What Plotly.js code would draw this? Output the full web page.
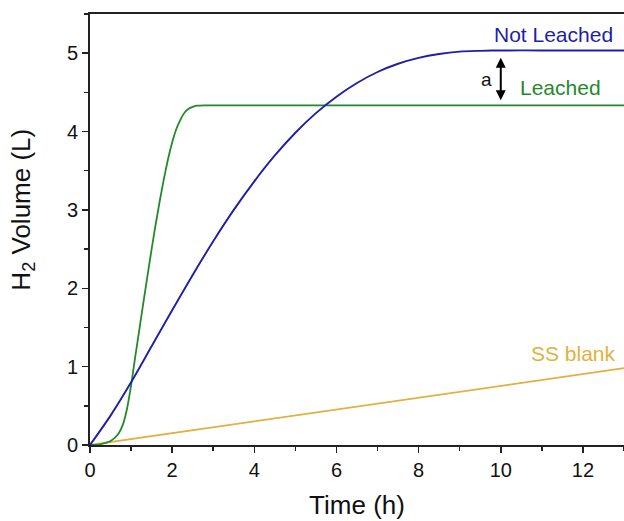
<!DOCTYPE html>
<html>
<head>
<meta charset="utf-8">
<script src="https://cdn.plot.ly/plotly-3.0.1.min.js"></script>
<style>html,body{margin:0;padding:0;background:#fff;}#chart{width:624px;height:521px;}</style>
</head>
<body>
<div id="chart"></div>
<script>
// Not Leached (blue)
const notLeachedTime = [0, 0.5, 1, 1.5, 2, 2.5, 3, 3.5, 4, 4.5, 5, 5.5, 6, 6.5, 7, 7.5, 8, 8.5, 9, 9.5, 10, 11, 12, 13];
const notLeachedVol  = [0, 0.375, 0.80, 1.26, 1.72, 2.17, 2.60, 3.00, 3.365, 3.695, 3.985, 4.235, 4.445, 4.62, 4.76, 4.865, 4.94, 4.99, 5.02, 5.03, 5.035, 5.035, 5.035, 5.035];
// Leached (green)
const leachedTime = [0, 0.2, 0.4, 0.5, 0.6, 0.7, 0.8, 0.9, 1.0, 1.1, 1.2, 1.3, 1.4, 1.5, 1.6, 1.7, 1.8, 1.9, 2.0, 2.1, 2.2, 2.3, 2.4, 2.5, 2.6, 2.8, 3.0, 5, 7, 9, 11, 13];
const leachedVol  = [0, 0.005, 0.03, 0.05, 0.09, 0.15, 0.26, 0.46, 0.76, 1.12, 1.47, 1.82, 2.16, 2.50, 2.82, 3.12, 3.40, 3.65, 3.86, 4.03, 4.15, 4.24, 4.29, 4.315, 4.33, 4.335, 4.335, 4.335, 4.335, 4.335, 4.335, 4.335];
// SS blank (gold)
const blankTime = [0, 2, 4, 6, 8, 10, 12, 13];
const blankVol  = [0, 0.15, 0.30, 0.45, 0.60, 0.75, 0.90, 0.98];

const seriesNames = ['Not Leached', 'Leached', 'SS blank'];
const gapLabel = 'a';
const xTitle = 'Time (h)';
const yTitle = 'H<sub>2</sub> Volume (L)';

const blue = '#1f1fa6', green = '#23892b', gold = '#e0b13e';
const font = 'Liberation Sans, Arial, sans-serif';

const traces = [
  {x: blankTime, y: blankVol, mode: 'lines', line: {color: gold, width: 1.8}, name: seriesNames[2]},
  {x: leachedTime, y: leachedVol, mode: 'lines', line: {color: green, width: 1.8, shape: 'spline', smoothing: 0.5}, name: seriesNames[1]},
  {x: notLeachedTime, y: notLeachedVol, mode: 'lines', line: {color: blue, width: 1.9, shape: 'spline', smoothing: 0.8}, name: seriesNames[0]}
];

const axisCommon = {
  showgrid: false, zeroline: false, showline: true, linecolor: '#222', linewidth: 2,
  ticks: 'outside', ticklen: 6, tickwidth: 1.5, tickcolor: '#222',
  tickfont: {family: font, size: 20, color: '#111'},
  automargin: false
};

const layout = {
  width: 624, height: 521,
  margin: {l: 90, r: 0, t: 14, b: 76},
  paper_bgcolor: '#fff', plot_bgcolor: '#fff',
  showlegend: false,
  font: {family: font},
  xaxis: Object.assign({}, axisCommon, {
    range: [0, 13], dtick: 2, tick0: 0, mirror: true,
    minor: {dtick: 1, ticks: 'outside', ticklen: 4, tickwidth: 1.5, tickcolor: '#222'},
    title: {text: xTitle, font: {family: font, size: 26, color: '#111'}, standoff: 16}
  }),
  yaxis: Object.assign({}, axisCommon, {
    range: [0, 5.5], dtick: 1, tick0: 0,
    minor: {dtick: 0.5, ticks: 'outside', ticklen: 4, tickwidth: 1.5, tickcolor: '#222'}
  }),
  annotations: [
    {x: -0.126, y: 3.0, xref: 'paper', yref: 'y', text: yTitle, textangle: -90, showarrow: false, xanchor: 'center', yanchor: 'middle', font: {family: font, size: 26, color: '#111'}},
    {x: 12.79, y: 5.24, xref: 'x', yref: 'y', text: seriesNames[0], showarrow: false, xanchor: 'right', yanchor: 'middle', font: {family: font, size: 21, color: blue}},
    {x: 12.50, y: 4.56, xref: 'x', yref: 'y', text: seriesNames[1], showarrow: false, xanchor: 'right', yanchor: 'middle', font: {family: font, size: 21, color: green}},
    {x: 12.86, y: 1.17, xref: 'x', yref: 'y', text: seriesNames[2], showarrow: false, xanchor: 'right', yanchor: 'middle', font: {family: font, size: 21, color: gold}},
    {x: 9.66, y: 4.67, xref: 'x', yref: 'y', text: gapLabel, showarrow: false, xanchor: 'center', yanchor: 'middle', font: {family: font, size: 19, color: '#111'}},
    {x: 10.0, y: 4.40, ax: 10.0, ay: 4.96, xref: 'x', yref: 'y', axref: 'x', ayref: 'y', text: '', showarrow: true,
     arrowhead: 2, arrowside: 'end+start', arrowsize: 1, arrowwidth: 2, arrowcolor: '#000'}
  ]
};

Plotly.newPlot('chart', traces, layout, {staticPlot: true, displayModeBar: false});
</script>
</body>
</html>
